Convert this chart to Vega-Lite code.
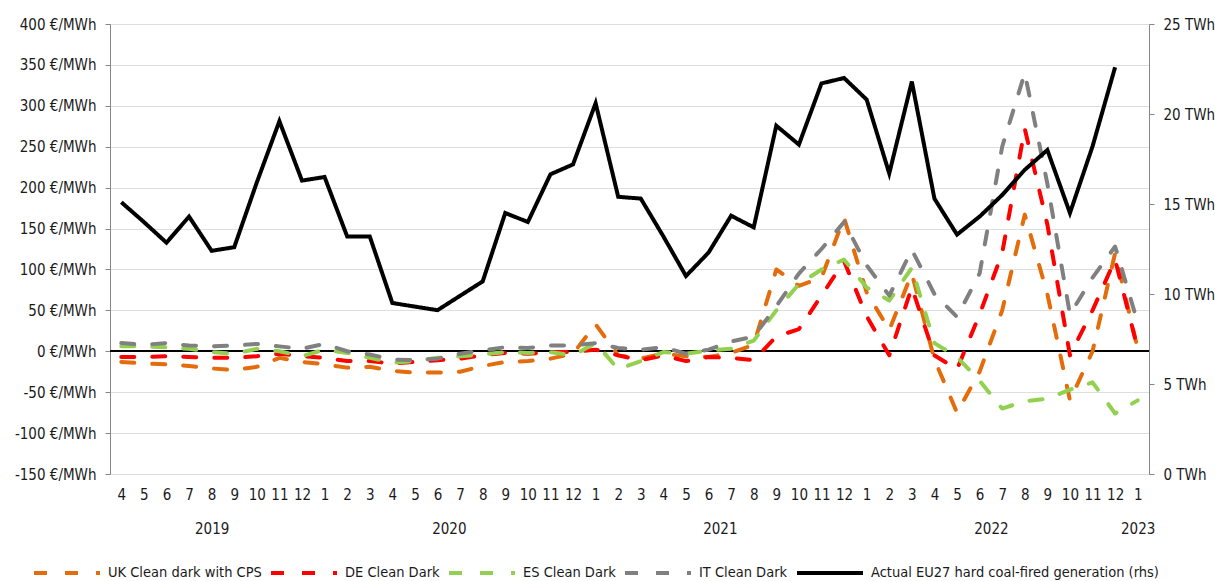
{
  "$schema": "https://vega.github.io/schema/vega-lite/v6.json",
  "width": 1039,
  "height": 450,
  "autosize": {"type": "none"},
  "padding": {"left": 110, "top": 24, "right": 66, "bottom": 107},
  "background": "white",
  "config": {
    "font": "DejaVu Sans Condensed, Liberation Sans, sans-serif",
    "view": {"stroke": null},
    "axis": {"labelFont": "DejaVu Sans Condensed, Liberation Sans, sans-serif", "labelFontSize": 15, "labelColor": "#1a1a1a", "title": null},
    "legend": {
      "orient": "none",
      "legendX": -78,
      "legendY": 514,
      "direction": "horizontal",
      "title": null,
      "symbolType": "stroke",
      "symbolSize": 4356,
      "symbolStrokeWidth": 4,
      "labelFont": "DejaVu Sans Condensed, Liberation Sans, sans-serif",
      "labelFontSize": 14.5,
      "labelColor": "#1a1a1a",
      "labelOffset": 6,
      "columnPadding": 1,
      "labelLimit": 400
    }
  },
  "data": {
    "values": [
      {"d": "2019-04", "UK": -13, "DE": -7, "ES": 6, "IT": 10, "Coal": 15.1},
      {"d": "2019-05", "UK": -15, "DE": -7, "ES": 6, "IT": 8, "Coal": 14.0},
      {"d": "2019-06", "UK": -16, "DE": -6, "ES": 5, "IT": 10, "Coal": 12.85},
      {"d": "2019-07", "UK": -18, "DE": -7, "ES": 3, "IT": 7, "Coal": 14.3},
      {"d": "2019-08", "UK": -21, "DE": -8, "ES": -1, "IT": 6, "Coal": 12.4},
      {"d": "2019-09", "UK": -23, "DE": -8, "ES": -3, "IT": 7, "Coal": 12.6},
      {"d": "2019-10", "UK": -19, "DE": -6, "ES": 3, "IT": 9, "Coal": 16.2},
      {"d": "2019-11", "UK": -8, "DE": -3, "ES": 0, "IT": 6, "Coal": 19.6},
      {"d": "2019-12", "UK": -13, "DE": -6, "ES": -6, "IT": 3, "Coal": 16.3},
      {"d": "2020-01", "UK": -16, "DE": -8, "ES": 2, "IT": 9, "Coal": 16.5},
      {"d": "2020-02", "UK": -20, "DE": -12, "ES": -2, "IT": 0, "Coal": 13.2},
      {"d": "2020-03", "UK": -19, "DE": -12, "ES": -8, "IT": -4, "Coal": 13.2},
      {"d": "2020-04", "UK": -24, "DE": -15, "ES": -14, "IT": -10, "Coal": 9.5},
      {"d": "2020-05", "UK": -26, "DE": -13, "ES": -12, "IT": -11, "Coal": 9.3},
      {"d": "2020-06", "UK": -26, "DE": -11, "ES": -8, "IT": -9, "Coal": 9.1},
      {"d": "2020-07", "UK": -25, "DE": -9, "ES": -6, "IT": -3, "Coal": 9.9},
      {"d": "2020-08", "UK": -18, "DE": -5, "ES": -4, "IT": 1, "Coal": 10.7},
      {"d": "2020-09", "UK": -13, "DE": -2, "ES": -1, "IT": 5, "Coal": 14.5},
      {"d": "2020-10", "UK": -12, "DE": -3, "ES": -2, "IT": 4, "Coal": 14.0},
      {"d": "2020-11", "UK": -9, "DE": -1, "ES": -1, "IT": 7, "Coal": 16.65},
      {"d": "2020-12", "UK": -3, "DE": -1, "ES": -5, "IT": 7, "Coal": 17.2},
      {"d": "2021-01", "UK": 33, "DE": 2, "ES": 10, "IT": 10, "Coal": 20.6},
      {"d": "2021-02", "UK": -5, "DE": -5, "ES": -22, "IT": 4, "Coal": 15.4},
      {"d": "2021-03", "UK": -9, "DE": -11, "ES": -12, "IT": 2, "Coal": 15.3},
      {"d": "2021-04", "UK": -3, "DE": -5, "ES": -1, "IT": 5, "Coal": 13.2},
      {"d": "2021-05", "UK": -6, "DE": -12, "ES": -3, "IT": -3, "Coal": 11.0},
      {"d": "2021-06", "UK": -7, "DE": -7, "ES": 1, "IT": 2, "Coal": 12.3},
      {"d": "2021-07", "UK": -2, "DE": -8, "ES": 3, "IT": 12, "Coal": 14.35},
      {"d": "2021-08", "UK": 8, "DE": -11, "ES": 13, "IT": 18, "Coal": 13.7},
      {"d": "2021-09", "UK": 100, "DE": 18, "ES": 50, "IT": 55, "Coal": 19.35},
      {"d": "2021-10", "UK": 80, "DE": 27, "ES": 82, "IT": 95, "Coal": 18.3},
      {"d": "2021-11", "UK": 90, "DE": 68, "ES": 100, "IT": 125, "Coal": 21.7},
      {"d": "2021-12", "UK": 163, "DE": 110, "ES": 112, "IT": 158, "Coal": 22.0},
      {"d": "2022-01", "UK": 72, "DE": 43, "ES": 78, "IT": 105, "Coal": 20.8},
      {"d": "2022-02", "UK": 26, "DE": -5, "ES": 62, "IT": 68, "Coal": 16.7},
      {"d": "2022-03", "UK": 95, "DE": 78, "ES": 102, "IT": 124, "Coal": 21.8},
      {"d": "2022-04", "UK": -10, "DE": -5, "ES": 10, "IT": 70, "Coal": 15.3},
      {"d": "2022-05", "UK": -75, "DE": -22, "ES": -7, "IT": 42, "Coal": 13.3},
      {"d": "2022-06", "UK": -25, "DE": 45, "ES": -36, "IT": 95, "Coal": 14.3},
      {"d": "2022-07", "UK": 50, "DE": 120, "ES": -70, "IT": 250, "Coal": 15.5},
      {"d": "2022-08", "UK": 167, "DE": 272, "ES": -61, "IT": 340, "Coal": 16.9},
      {"d": "2022-09", "UK": 70, "DE": 155, "ES": -58, "IT": 205, "Coal": 18.0},
      {"d": "2022-10", "UK": -60, "DE": -5, "ES": -47, "IT": 45, "Coal": 14.5},
      {"d": "2022-11", "UK": 0, "DE": 50, "ES": -38, "IT": 90, "Coal": 18.2},
      {"d": "2022-12", "UK": 120, "DE": 112, "ES": -76, "IT": 128, "Coal": 22.6},
      {"d": "2023-01", "UK": 3, "DE": 3, "ES": -60, "IT": 35}
    ]
  },
  "layer": [
    {
      "layer": [
        {
          "mark": {"type": "rule", "color": "#000000", "strokeWidth": 1.5},
          "encoding": {"y": {"datum": 0, "type": "quantitative"}}
        },
        {
          "transform": [{"fold": ["UK", "DE", "ES", "IT"], "as": ["s", "v"]}],
          "mark": {"type": "line", "strokeWidth": 4, "strokeCap": "round", "strokeJoin": "round"},
          "encoding": {
            "x": {
              "field": "d", "type": "ordinal",
              "scale": {"type": "point", "padding": 0.5},
              "axis": {"orient": "bottom", "labelExpr": "toNumber(slice(datum.value, 5))", "ticks": false, "domain": false, "grid": false, "labelPadding": 13, "labelAngle": 0, "labelOverlap": false, "labelBaseline": "top"}
            },
            "y": {
              "field": "v", "type": "quantitative",
              "scale": {"domain": [-150, 400], "nice": false, "zero": false},
              "axis": {"values": [-150, -100, -50, 0, 50, 100, 150, 200, 250, 300, 350, 400], "labelExpr": "datum.value + ' €/MWh'", "grid": true, "gridDash": [1, 1], "gridColor": "#bdbdbd", "gridWidth": 1, "domainColor": "#868686", "tickColor": "#868686", "tickSize": 5, "labelPadding": 9}
            },
            "color": {
              "field": "s", "type": "nominal",
              "scale": {"domain": ["UK", "DE", "ES", "IT", "Coal"], "range": ["#E46C0A", "#FF0000", "#92D050", "#808080", "#000000"]},
              "legend": {"labelExpr": "datum.label == 'UK' ? 'UK Clean dark with CPS' : datum.label == 'DE' ? 'DE Clean Dark' : datum.label == 'ES' ? 'ES Clean Dark' : datum.label == 'IT' ? 'IT Clean Dark' : 'Actual EU27 hard coal-fired generation (rhs)'"}
            },
            "strokeDash": {
              "field": "s", "type": "nominal",
              "scale": {"domain": ["UK", "DE", "ES", "IT", "Coal"], "range": [[13, 18], [13, 18], [13, 18], [13, 18], [1, 0]]},
              "legend": {"labelExpr": "datum.label == 'UK' ? 'UK Clean dark with CPS' : datum.label == 'DE' ? 'DE Clean Dark' : datum.label == 'ES' ? 'ES Clean Dark' : datum.label == 'IT' ? 'IT Clean Dark' : 'Actual EU27 hard coal-fired generation (rhs)'"}
            }
          }
        }
      ]
    },
    {
      "transform": [{"fold": ["Coal"], "as": ["s", "v"]}],
      "mark": {"type": "line", "strokeWidth": 4, "strokeJoin": "miter"},
      "encoding": {
        "x": {
          "field": "d", "type": "ordinal",
          "axis": {
            "orient": "bottom",
            "labelExpr": "datum.value == '2019-08' ? '2019' : datum.value == '2020-06' ? '2020' : datum.value == '2021-06' ? '2021' : datum.value == '2022-06' ? '2022' : datum.value == '2023-01' ? '2023' : ''",
            "labelOffset": {"condition": {"test": "datum.value == '2019-08' || datum.value == '2023-01'", "value": 0}, "value": 11.3},
            "ticks": false, "domain": false, "grid": false, "labelPadding": 47, "labelAngle": 0, "labelOverlap": false, "labelBaseline": "top"
          }
        },
        "y": {
          "field": "v", "type": "quantitative",
          "scale": {"domain": [0, 25], "nice": false},
          "axis": {"orient": "right", "values": [0, 5, 10, 15, 20, 25], "labelExpr": "datum.value + ' TWh'", "grid": false, "domainColor": "#868686", "tickColor": "#868686", "tickSize": 5, "labelPadding": 9}
        },
        "color": {"field": "s", "type": "nominal"},
        "strokeDash": {"field": "s", "type": "nominal"}
      }
    }
  ],
  "resolve": {"scale": {"y": "independent"}, "axis": {"x": "independent", "y": "independent"}}
}
